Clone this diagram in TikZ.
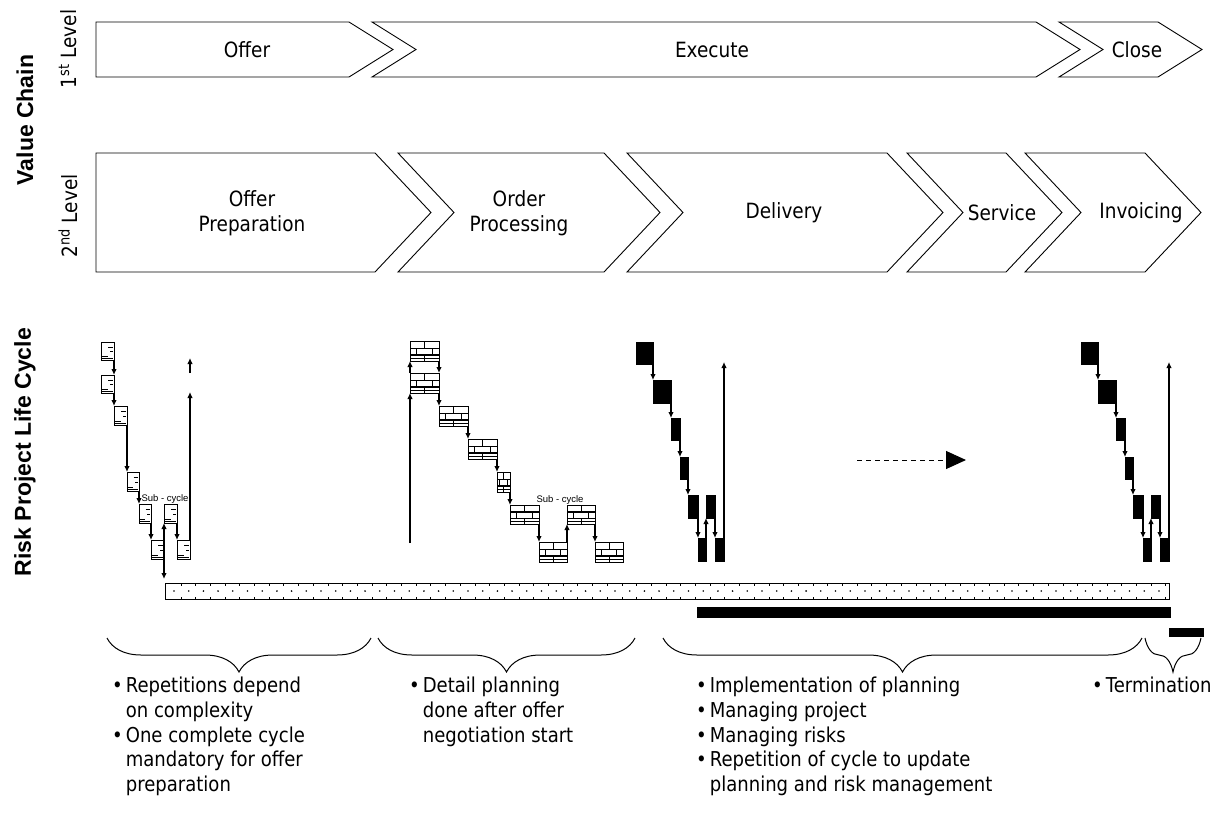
\documentclass[tikz,border=0pt]{standalone}
\usepackage{fontspec}
\setmainfont{DejaVu Sans}[FakeStretch=0.88]
\newfontfamily\arialf{Liberation Sans}
\usetikzlibrary{arrows.meta,decorations.pathreplacing}
\newcommand\chev[7]{\draw[chevline] (#1,#5) -- (#3,#5) -- (#4,#7) -- (#3,#6) -- (#1,#6) -- ({#1+#2},#7) -- cycle;}
\newcommand\boxnode[6]{\node[#1, minimum width={((#4)-(#2))*1pt}, minimum height={((#5)-(#3))*1pt}] (#6) at ({((#2)+(#4))/2},{((#3)+(#5))/2}) {};}
\newcommand\lbx[5]{\boxnode{boxbase}{#1}{#2}{#3}{#4}{#5}
  \draw[line width=1.3pt] ({#1+0.55*(#3-#1)},{#2+0.3*(#4-#2)}) -- ({#3-1.2},{#2+0.3*(#4-#2)});
  \draw[line width=0.7pt] ({#1+0.7*(#3-#1)},{#2+0.52*(#4-#2)}) -- ({#3-1.2},{#2+0.52*(#4-#2)});
  \draw[line width=1.3pt] ({#1+1.2},{#2+0.8*(#4-#2)}) -- ({#1+0.5*(#3-#1)},{#2+0.8*(#4-#2)});
  \draw[line width=0.6pt] ({#1+1.2},{#2+0.9*(#4-#2)}) -- ({#3-1.2},{#2+0.9*(#4-#2)});}
\newcommand\brk[5]{\boxnode{boxbase}{#1}{#2}{#3}{#4}{#5}
  \draw[line width=1.4pt] (#1,{#2+0.36*(#4-#2)}) -- (#3,{#2+0.36*(#4-#2)});
  \draw[line width=1.4pt] (#1,{#2+0.7*(#4-#2)}) -- (#3,{#2+0.7*(#4-#2)});
  \draw[line width=0.6pt] (#1,{#2+0.87*(#4-#2)}) -- (#3,{#2+0.87*(#4-#2)});
  \draw[line width=0.8pt] ({#1+0.5*(#3-#1)},#2) -- ({#1+0.5*(#3-#1)},{#2+0.36*(#4-#2)});
  \draw[line width=0.8pt] ({#1+0.22*(#3-#1)},{#2+0.36*(#4-#2)}) -- ({#1+0.22*(#3-#1)},{#2+0.7*(#4-#2)});
  \draw[line width=0.8pt] ({#1+0.78*(#3-#1)},{#2+0.36*(#4-#2)}) -- ({#1+0.78*(#3-#1)},{#2+0.7*(#4-#2)});
  \draw[line width=0.8pt] ({#1+0.5*(#3-#1)},{#2+0.7*(#4-#2)}) -- ({#1+0.5*(#3-#1)},#4);}
\newcommand\kbx[5]{\boxnode{blackbox}{#1}{#2}{#3}{#4}{#5}}
\begin{document}
\begin{tikzpicture}[x=1pt,y=-1pt,
  chevline/.style={draw=black, line width=0.9pt, line join=miter},
  boxbase/.style={draw, line width=0.9pt, inner sep=0pt, outer sep=0pt, fill=white},
  blackbox/.style={draw, fill=black, line width=0.5pt, inner sep=0pt, outer sep=0pt},
  conn/.style={-{Latex[length=6pt,width=5.5pt]}, line width=1.1pt},
  dconn/.style={{Latex[length=6pt,width=5.5pt]}-{Latex[length=6pt,width=5.5pt]}, line width=1.1pt},
  lbl/.style={font=\fontsize{21}{25}\selectfont, inner sep=0pt},
  side/.style={font=\arialf\bfseries\fontsize{23}{27}\selectfont, rotate=90, inner sep=0pt},
  lvl/.style={font=\fontsize{21}{25}\selectfont, rotate=90, inner sep=0pt},
  subl/.style={font=\arialf\fontsize{9.5}{11}\selectfont, inner sep=0pt},
  bul/.style={font=\fontsize{20.5}{24.7}\selectfont, align=left, anchor=north west, inner sep=0pt},
  brc/.style={decorate, decoration={brace, mirror, amplitude=34pt}, line width=1pt}]
\useasboundingbox (0,0) rectangle (1216,825);
% side labels
\node[side] (vc) at (25,120) {Value Chain};
\node[side] (rp) at (25,452) {Risk Project Life Cycle};
\node[lvl] (l1) at (68,49) {1\textsuperscript{st} Level};
\node[lvl] (l2) at (68,216) {2\textsuperscript{nd} Level};
% 1st level
\chev{96}{0}{349}{393}{22}{77}{49.5}
\chev{372}{44}{1036}{1080}{22}{77}{49.5}
\chev{1059}{44}{1158}{1202}{22}{77}{49.5}
\node[lbl] (t1) at (247,50) {Offer};
\node[lbl] (t2) at (712,50) {Execute};
\node[lbl] (t3) at (1137,50) {Close};
% 2nd level
\chev{96}{0}{375}{431}{153}{272}{212.5}
\chev{398}{56}{604}{660}{153}{272}{212.5}
\chev{627}{56}{887}{943}{153}{272}{212.5}
\chev{907}{56}{1006}{1062}{153}{272}{212.5}
\chev{1025}{56}{1145}{1201}{153}{272}{212.5}
\node[lbl, align=center] (s1) at (252,213) {Offer\\Preparation};
\node[lbl, align=center] (s2) at (519,213) {Order\\Processing};
\node[lbl] (s3) at (784,213) {Delivery};
\node[lbl] (s4) at (1002,213) {Service};
\node[lbl] (s5) at (1141,213) {Invoicing};
% left cycle
\lbx{101}{342}{114}{360}{a1}
\lbx{101}{375}{114}{393}{a2}
\lbx{114}{406}{127}{425}{a3}
\lbx{127}{472}{139}{491}{a4}
\lbx{139}{504}{151}{523}{a5}
\lbx{151}{540}{164}{559}{a6}
\lbx{164}{504}{177}{523}{a7}
\lbx{177}{540}{190}{559}{a8}
\node[subl] (sc1) at (165,499) {Sub - cycle};
\draw[conn] (a1.south east) -- (a2.north east);
\draw[conn] (a2.south east) -- (a2.south east |- a3.north);
\draw[conn] (a3.south east) -- (a3.south east |- a4.north);
\draw[conn] (a4.south east) -- (a4.south east |- a5.north);
\draw[conn] (a5.south east) -- (a5.south east |- a6.north);
\coordinate (ad) at (164,579);
\draw[dconn] (a7.south west) -- (ad);
\draw[conn] (a7.south east) -- (a7.south east |- a8.north);
\coordinate (au1) at (190,392);
\coordinate (au2) at (190,373);
\coordinate (au3) at (190,358);
\draw[conn] (a8.north east) -- (au1);
\draw[conn] (au2) -- (au3);
% middle cycle
\brk{410}{341}{439}{361}{b1}
\brk{410}{373}{439}{393}{b2}
\brk{439}{406}{468}{426}{b3}
\brk{468}{439}{497}{459}{b4}
\brk{497}{472}{510}{492}{b5}
\brk{510}{505}{539}{524}{b6}
\brk{539}{542}{567}{562}{b7}
\brk{567}{505}{595}{524}{b8}
\brk{595}{542}{623}{562}{b9}
\node[subl] (sc2) at (560,500) {Sub - cycle};
\coordinate (bst) at (410,543);
\draw[conn] (bst) -- (b2.south west);
\draw[conn] (b2.north west) -- (b1.south west);
\draw[conn] (b1.south east) -- (b2.north east);
\draw[conn] (b2.south east) -- (b2.south east |- b3.north);
\draw[conn] (b3.south east) -- (b3.south east |- b4.north);
\draw[conn] (b4.south east) -- (b4.south east |- b5.north);
\draw[conn] (b5.south east) -- (b5.south east |- b6.north);
\draw[conn] (b6.south east) -- (b6.south east |- b7.north);
\draw[conn] (b7.north east) -- (b7.north east |- b8.south);
\draw[conn] (b8.south east) -- (b8.south east |- b9.north);
% black cycles
\foreach \s/\p in {0/k,445/m}{
\kbx{636+\s}{342}{653+\s}{364}{\p1}
\kbx{653+\s}{380}{671+\s}{403}{\p2}
\kbx{671+\s}{418}{680+\s}{440}{\p3}
\kbx{680+\s}{457}{688+\s}{479}{\p4}
\kbx{688+\s}{495}{698+\s}{518}{\p5}
\kbx{698+\s}{538}{706+\s}{561}{\p6}
\kbx{706+\s}{495}{715+\s}{518}{\p7}
\kbx{715+\s}{538}{724+\s}{561}{\p8}
\draw[conn] (\p1.south east) -- (\p1.south east |- \p2.north);
\draw[conn] (\p2.south east) -- (\p2.south east |- \p3.north);
\draw[conn] (\p3.south east) -- (\p3.south east |- \p4.north);
\draw[conn] (\p4.south east) -- (\p4.south east |- \p5.north);
\draw[conn] (\p5.south east) -- (\p5.south east |- \p6.north);
\draw[conn] (\p6.north east) -- (\p6.north east |- \p7.south);
\draw[conn] (\p7.south east) -- (\p7.south east |- \p8.north);
\coordinate (\p top) at (724+\s,362);
\draw[conn] (\p8.north east) -- (\p top);
}
% dashed arrow
\coordinate (da) at (857,460);
\coordinate (db) at (966,460);
\draw[dashed, dash pattern=on 5pt off 4pt, line width=1pt, -{Triangle[length=20pt,width=18pt]}] (da) -- (db);
% dotted bar
\boxnode{boxbase}{165}{583}{1169}{599}{bar}
\foreach \i in {0,...,67}{\fill ({174+14.7*\i},591) circle (0.9pt);}
\foreach \i in {0,...,67}{\draw[line width=0.9pt] ({181+14.7*\i},583) -- ({181+14.7*\i},585.5);
  \draw[line width=0.9pt] ({181+14.7*\i},599) -- ({181+14.7*\i},596.5);}
% black bars
\boxnode{blackbox}{697}{607}{1170}{617}{bb1}
\boxnode{blackbox}{1169}{628}{1203}{636}{bb2}
% braces
\draw[brc] (107,638) -- (371,638);
\draw[brc] (378,638) -- (635,638);
\draw[brc] (663,638) -- (1142,638);
\draw[brc] (1145,638) -- (1201,638);
% bullet texts
\node[bul] (c1) at (112,677) {\textbullet\hspace{3pt}Repetitions depend\\\phantom{\textbullet}\hspace{3pt}on complexity\\\textbullet\hspace{3pt}One complete cycle\\\phantom{\textbullet}\hspace{3pt}mandatory for offer\\\phantom{\textbullet}\hspace{3pt}preparation};
\node[bul] (c2) at (409,677) {\textbullet\hspace{3pt}Detail planning\\\phantom{\textbullet}\hspace{3pt}done after offer\\\phantom{\textbullet}\hspace{3pt}negotiation start};
\node[bul] (c3) at (696,677) {\textbullet\hspace{3pt}Implementation of planning\\\textbullet\hspace{3pt}Managing project\\\textbullet\hspace{3pt}Managing risks\\\textbullet\hspace{3pt}Repetition of cycle to update\\\phantom{\textbullet}\hspace{3pt}planning and risk management};
\node[bul] (c4) at (1092,677) {\textbullet\hspace{3pt}Termination};
\end{tikzpicture}
\end{document}
